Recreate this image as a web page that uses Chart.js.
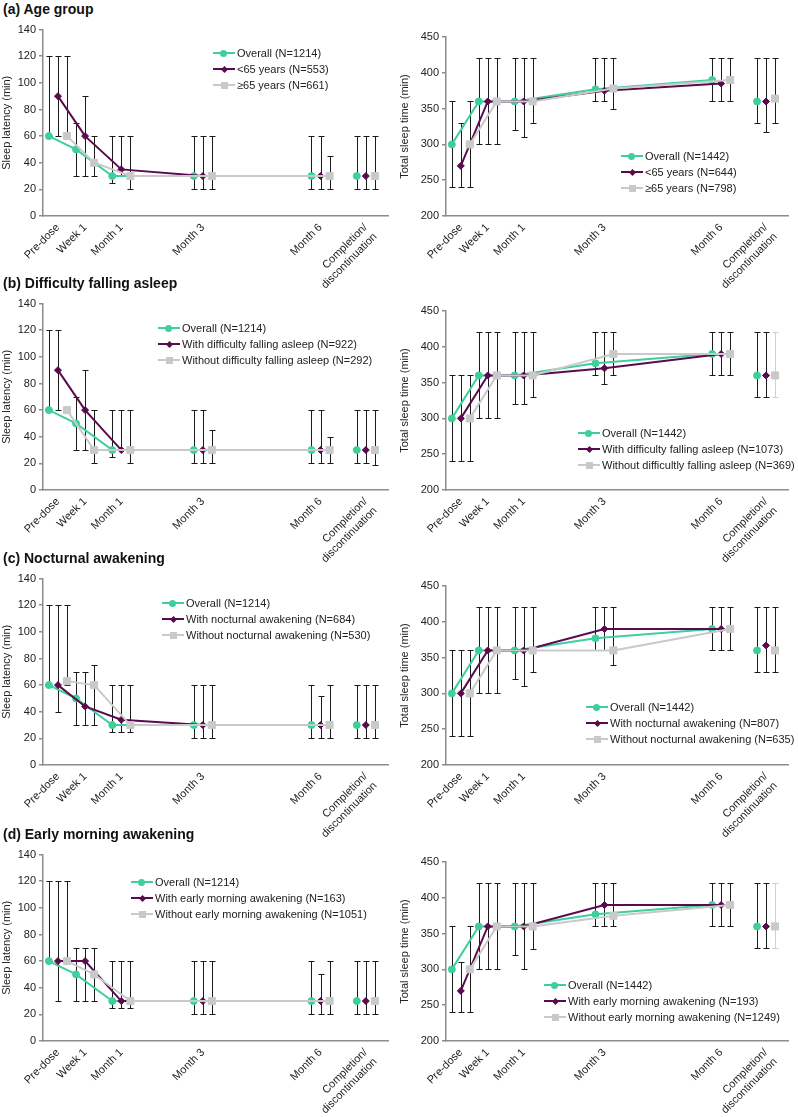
<!DOCTYPE html>
<html>
<head>
<meta charset="utf-8">
<script src="https://cdn.jsdelivr.net/npm/chart.js@4.4.1/dist/chart.umd.min.js"></script>
<style>
  body { margin: 0; background: #fff; font-family: "Liberation Sans", Arial, sans-serif; overflow: hidden; }
  #page { position: relative; width: 798px; height: 1117px; overflow: hidden; }
  .title { position: absolute; left: 3px; font-weight: bold; font-size: 14px; color: #111; z-index: 2; }
  canvas { position: absolute; }
  .legend { position: absolute; font-size: 11px; color: #222; z-index: 2; }
  .legend .row { height: 16px; line-height: 16px; white-space: nowrap; }
  .key { display: inline-block; position: relative; width: 22px; height: 16px; vertical-align: top; margin-right: 2px; }
  .key .ln { position: absolute; left: 0; right: 0; top: 7px; height: 2px; }
  .key .mk { position: absolute; }
  .mk.circle { width: 7px; height: 7px; left: 7px; top: 4.5px; border-radius: 50%; }
  .mk.diamond { width: 5px; height: 5px; left: 8.5px; top: 5.5px; transform: rotate(45deg); }
  .mk.square { width: 7px; height: 7px; left: 7.5px; top: 4.5px; }
</style>
</head>
<body>
<div id="page"></div>
<script>
// Time points and where each group sits on the x axis
const timepoints = ["Pre-dose", "Week 1", "Month 1", "Month 3", "Month 6", ["Completion/", "discontinuation"]]
const groupSlots = [1, 4, 8, 17, 30, 35]

// Overall population (same in every panel)
const overallSL = [60, 50, 30, 30, 30, 30]
const overallSLIqr = [[60, 120], [30, 70], [25, 60], [20, 60], [20, 60], [20, 60]]
const overallTST = [300, 360, 360, 377, 390, 360]
const overallTSTIqr = [[240, 360], [300, 420], [320, 420], [360, 420], [360, 420], [330, 420]]

// (a) Age group
const youngSL = [90, 60, 35, 30, 30, 30]
const youngSLIqr = [[60, 120], [30, 90], [30, 60], [20, 60], [20, 60], [20, 60]]
const olderSL = [60, 40, 30, 30, 30, 30]
const olderSLIqr = [[60, 120], [30, 60], [20, 60], [20, 60], [20, 45], [20, 60]]
const youngTST = [270, 360, 360, 375, 385, 360]
const youngTSTIqr = [[240, 330], [300, 420], [310, 420], [360, 420], [360, 420], [318, 420]]
const olderTST = [300, 360, 360, 378, 390, 364]
const olderTSTIqr = [[240, 360], [300, 420], [330, 420], [350, 420], [360, 420], [330, 420]]

// (b) Difficulty falling asleep
const withDfaSL = [90, 60, 30, 30, 30, 30]
const withDfaSLIqr = [[60, 120], [30, 90], [30, 60], [20, 60], [20, 60], [20, 60]]
const withoutDfaSL = [60, 30, 30, 30, 30, 30]
const withoutDfaSLIqr = [[60, 60], [20, 60], [20, 60], [20, 45], [20, 40], [19, 60]]
const withDfaTST = [300, 360, 360, 370, 390, 360]
const withDfaTSTIqr = [[240, 360], [300, 420], [320, 420], [348, 420], [360, 420], [330, 420]]
const withoutDfaTST = [300, 360, 360, 390, 390, 360]
const withoutDfaTSTIqr = [[240, 360], [300, 420], [330, 420], [360, 420], [360, 420], [330, 420]]

// (c) Nocturnal awakening
const withNaSL = [60, 44, 34, 30, 30, 30]
const withNaSLIqr = [[40, 120], [30, 70], [25, 60], [20, 60], [20, 52], [20, 60]]
const withoutNaSL = [63, 60, 30, 30, 30, 30]
const withoutNaSLIqr = [[60, 120], [30, 75], [25, 60], [20, 60], [20, 60], [20, 60]]
const withNaTST = [300, 360, 360, 390, 390, 367]
const withNaTSTIqr = [[240, 360], [300, 420], [310, 420], [360, 420], [360, 420], [330, 420]]
const withoutNaTST = [300, 360, 360, 360, 390, 360]
const withoutNaTSTIqr = [[240, 360], [300, 420], [330, 420], [340, 420], [360, 420], [330, 420]]

// (d) Early morning awakening
const withEmaSL = [60, 60, 30, 30, 30, 30]
const withEmaSLIqr = [[30, 120], [30, 70], [25, 60], [20, 60], [20, 50], [20, 60]]
const withoutEmaSL = [60, 50, 30, 30, 30, 30]
const withoutEmaSLIqr = [[60, 120], [30, 70], [25, 60], [20, 60], [20, 60], [20, 60]]
const withEmaTST = [270, 360, 360, 390, 390, 360]
const withEmaTSTIqr = [[240, 310], [300, 420], [300, 420], [360, 420], [360, 420], [330, 420]]
const withoutEmaTST = [300, 360, 360, 375, 390, 360]
const withoutEmaTSTIqr = [[240, 360], [300, 420], [328, 420], [360, 420], [360, 420], [330, 420]]

// Y axis ticks
const slTicks = [0, 140, 20]
const tstTicks = [200, 450, 50]

const colors = ["#3ecf9c", "#5a0b4d", "#c9c9c9"]
const pointStyles = ["circle", "rectRot", "rect"]
const pointRadii = [3.5, 3.5, 5]
const markerClass = ["circle", "diamond", "square"]

Chart.defaults.font.family = "'Liberation Sans', Arial, sans-serif"
Chart.defaults.color = "#222"

const panels = [
  {
    title: "(a) Age group", off: 0,
    left: {
      legend: [213, 45],
      series: [
        ["Overall (N=1214)", overallSL, overallSLIqr],
        ["<65 years (N=553)", youngSL, youngSLIqr],
        ["\u226565 years (N=661)", olderSL, olderSLIqr],
      ],
    },
    right: {
      legend: [621, 148],
      series: [
        ["Overall (N=1442)", overallTST, overallTSTIqr],
        ["<65 years (N=644)", youngTST, youngTSTIqr],
        ["\u226565 years (N=798)", olderTST, olderTSTIqr],
      ],
    },
  },
  {
    title: "(b) Difficulty falling asleep", off: 274,
    left: {
      legend: [158, 320],
      series: [
        ["Overall (N=1214)", overallSL, overallSLIqr],
        ["With difficulty falling asleep (N=922)", withDfaSL, withDfaSLIqr],
        ["Without difficulty falling asleep (N=292)", withoutDfaSL, withoutDfaSLIqr],
      ],
    },
    right: {
      legend: [578, 425], paleLast: true,
      series: [
        ["Overall (N=1442)", overallTST, overallTSTIqr],
        ["With difficulty falling asleep (N=1073)", withDfaTST, withDfaTSTIqr],
        ["Without difficultly falling asleep (N=369)", withoutDfaTST, withoutDfaTSTIqr],
      ],
    },
  },
  {
    title: "(c) Nocturnal awakening", off: 549,
    left: {
      legend: [162, 595],
      series: [
        ["Overall (N=1214)", overallSL, overallSLIqr],
        ["With nocturnal awakening (N=684)", withNaSL, withNaSLIqr],
        ["Without nocturnal awakening (N=530)", withoutNaSL, withoutNaSLIqr],
      ],
    },
    right: {
      legend: [586, 699],
      series: [
        ["Overall (N=1442)", overallTST, overallTSTIqr],
        ["With nocturnal awakening (N=807)", withNaTST, withNaTSTIqr],
        ["Without nocturnal awakening (N=635)", withoutNaTST, withoutNaTSTIqr],
      ],
    },
  },
  {
    title: "(d) Early morning awakening", off: 825,
    left: {
      legend: [131, 874],
      series: [
        ["Overall (N=1214)", overallSL, overallSLIqr],
        ["With early morning awakening (N=163)", withEmaSL, withEmaSLIqr],
        ["Without early morning awakening (N=1051)", withoutEmaSL, withoutEmaSLIqr],
      ],
    },
    right: {
      legend: [544, 977], paleLast: true,
      series: [
        ["Overall (N=1442)", overallTST, overallTSTIqr],
        ["With early morning awakening (N=193)", withEmaTST, withEmaTSTIqr],
        ["Without early morning awakening (N=1249)", withoutEmaTST, withoutEmaTSTIqr],
      ],
    },
  },
]

// Error bars (IQR) drawn behind lines and markers
const errorBars = {
  id: "errorBars",
  beforeDatasetsDraw(chart) {
    const { ctx, scales: { x, y } } = chart
    ctx.save()
    ctx.lineWidth = 1
    chart.data.datasets.forEach((ds) => {
      ds.iqr.forEach((r, i) => {
        if (r[0] === r[1]) return
        const px = Math.round(x.getPixelForValue(ds.xs[i])) + 0.5
        const top = Math.round(y.getPixelForValue(r[1])) + 0.5
        const bot = Math.round(y.getPixelForValue(r[0])) + 0.5
        ctx.strokeStyle = ds.paleLast && i === ds.iqr.length - 1 ? "#d0d0d0" : "#1a1a1a"
        ctx.beginPath()
        ctx.moveTo(px, top)
        ctx.lineTo(px, bot)
        ctx.moveTo(px - 3, top)
        ctx.lineTo(px + 3, top)
        ctx.moveTo(px - 3, bot)
        ctx.lineTo(px + 3, bot)
        ctx.stroke()
      })
    })
    ctx.restore()
  },
}

function seriesPoints(values, k) {
  const pts = values.map((v, i) => ({ x: groupSlots[i] + k - 1, y: v }))
  // completion/discontinuation is not joined to the line
  pts.splice(values.length - 1, 0, { x: groupSlots[values.length - 1] - 2, y: null })
  return pts
}

function makeChart(canvas, side, isLeft) {
  const yt = isLeft ? slTicks : tstTicks
  const datasets = side.series.map((s, k) => ({
    label: s[0],
    data: seriesPoints(s[1], k),
    iqr: s[2],
    xs: s[1].map((v, i) => groupSlots[i] + k - 1),
    paleLast: side.paleLast && k === 2,
    borderColor: colors[k],
    backgroundColor: colors[k],
    pointStyle: pointStyles[k],
    pointRadius: pointRadii[k],
    pointBorderWidth: 1,
    borderWidth: 2,
    spanGaps: false,
    order: 2 - k,
  }))

  return new Chart(canvas, {
    type: "line",
    data: { datasets },
    plugins: [errorBars],
    options: {
      responsive: false,
      animation: false,
      devicePixelRatio: 1,
      layout: { padding: { top: isLeft ? 9 : 17, right: 10, bottom: 4, left: 0 } },
      plugins: { legend: { display: false }, tooltip: { enabled: false } },
      scales: {
        x: {
          type: "linear",
          min: -0.65,
          max: 37.45,
          afterBuildTicks: (s) => {
            s.ticks = groupSlots.map((v) => ({ value: v }))
          },
          // tall enough so the rotated labels are not clipped
          afterFit: (s) => {
            s.height = 100
          },
          ticks: {
            autoSkip: false,
            minRotation: 45,
            maxRotation: 45,
            padding: -3,
            font: { size: 11 },
            callback: (v) => timepoints[groupSlots.indexOf(v)],
          },
          grid: { display: false },
          border: { color: "#8c8c8c", width: 1.5 },
        },
        y: {
          min: yt[0],
          max: yt[1],
          afterFit: (s) => {
            s.width = isLeft ? 43 : 48
          },
          ticks: { stepSize: yt[2], font: { size: 11 }, padding: 3 },
          grid: { drawOnChartArea: false, tickLength: 4, color: "#8c8c8c", lineWidth: 1.5 },
          border: { color: "#8c8c8c", width: 1.5 },
          title: {
            display: true,
            text: isLeft ? "Sleep latency (min)" : "Total sleep time (min)",
            font: { size: 11 },
            padding: 0,
          },
        },
      },
    },
  })
}

function makeLegend(page, side) {
  const box = document.createElement("div")
  box.className = "legend"
  box.style.left = side.legend[0] + "px"
  box.style.top = side.legend[1] + "px"
  side.series.forEach((s, k) => {
    const row = document.createElement("div")
    row.className = "row"
    row.innerHTML =
      `<span class="key"><i class="ln" style="background:${colors[k]}"></i>` +
      `<i class="mk ${markerClass[k]}" style="background:${colors[k]}"></i></span>`
    row.appendChild(document.createTextNode(s[0]))
    box.appendChild(row)
  })
  page.appendChild(box)
}

const page = document.getElementById("page")
panels.forEach((p) => {
  const t = document.createElement("div")
  t.className = "title"
  t.style.top = p.off + 1 + "px"
  t.textContent = p.title
  page.appendChild(t)

  ;[["left", 0, 398], ["right", 398, 400]].forEach(([key, x, w]) => {
    const c = document.createElement("canvas")
    c.width = w
    c.height = 300
    c.style.left = x + "px"
    c.style.top = p.off + 20 + "px"
    c.style.width = w + "px"
    c.style.height = "300px"
    page.appendChild(c)
    makeChart(c, p[key], key === "left")
    makeLegend(page, p[key])
  })
})
</script>
</body>
</html>
